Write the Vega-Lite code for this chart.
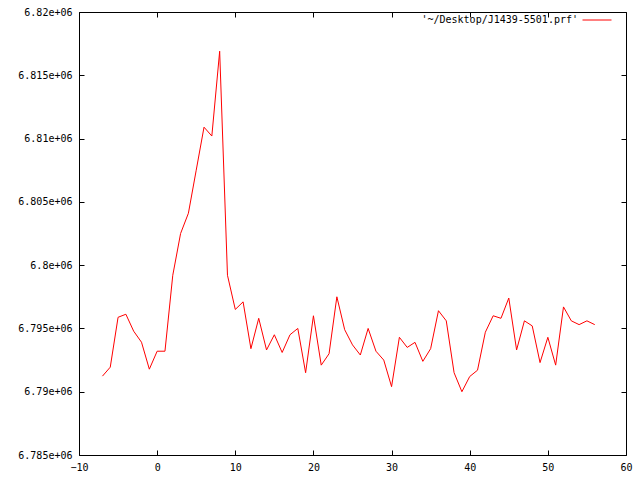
{
  "$schema": "https://vega.github.io/schema/vega-lite/v6.json",
  "width": 547,
  "height": 443,
  "autosize": {"type": "none"},
  "padding": {"left": 79, "top": 12, "right": 14, "bottom": 25},
  "background": "white",
  "config": {
    "view": {"stroke": "black", "strokeWidth": 1},
    "font": "DejaVu Sans Mono",
    "axis": {
      "grid": false,
      "domain": false,
      "tickColor": "black",
      "tickSize": -5,
      "labelFont": "DejaVu Sans Mono",
      "labelFontSize": 10,
      "labelColor": "black",
      "title": null
    }
  },
  "data": {
    "values": [
      {"x": -7, "y": 6791230}, {"x": -6, "y": 6791940}, {"x": -5, "y": 6795880}, {"x": -4, "y": 6796120},
      {"x": -3, "y": 6794780}, {"x": -2, "y": 6793910}, {"x": -1, "y": 6791780}, {"x": 0, "y": 6793200},
      {"x": 1, "y": 6793200}, {"x": 2, "y": 6799200}, {"x": 3, "y": 6802500}, {"x": 4, "y": 6804100},
      {"x": 5, "y": 6807500}, {"x": 6, "y": 6810900}, {"x": 7, "y": 6810200}, {"x": 8, "y": 6816900},
      {"x": 9, "y": 6799200}, {"x": 10, "y": 6796500}, {"x": 11, "y": 6797100}, {"x": 12, "y": 6793400},
      {"x": 13, "y": 6795800}, {"x": 14, "y": 6793300}, {"x": 15, "y": 6794500}, {"x": 16, "y": 6793100},
      {"x": 17, "y": 6794500}, {"x": 18, "y": 6795000}, {"x": 19, "y": 6791500}, {"x": 20, "y": 6796000},
      {"x": 21, "y": 6792100}, {"x": 22, "y": 6793000}, {"x": 23, "y": 6797500}, {"x": 24, "y": 6794900},
      {"x": 25, "y": 6793700}, {"x": 26, "y": 6792900}, {"x": 27, "y": 6795000}, {"x": 28, "y": 6793200},
      {"x": 29, "y": 6792500}, {"x": 30, "y": 6790400}, {"x": 31, "y": 6794300}, {"x": 32, "y": 6793500},
      {"x": 33, "y": 6793900}, {"x": 34, "y": 6792400}, {"x": 35, "y": 6793400}, {"x": 36, "y": 6796400},
      {"x": 37, "y": 6795600}, {"x": 38, "y": 6791500}, {"x": 39, "y": 6790000}, {"x": 40, "y": 6791200},
      {"x": 41, "y": 6791700}, {"x": 42, "y": 6794700}, {"x": 43, "y": 6796000}, {"x": 44, "y": 6795800},
      {"x": 45, "y": 6797400}, {"x": 46, "y": 6793300}, {"x": 47, "y": 6795600}, {"x": 48, "y": 6795200},
      {"x": 49, "y": 6792300}, {"x": 50, "y": 6794300}, {"x": 51, "y": 6792100}, {"x": 52, "y": 6796700},
      {"x": 53, "y": 6795600}, {"x": 54, "y": 6795300}, {"x": 55, "y": 6795600}, {"x": 56, "y": 6795300}
    ]
  },
  "layer": [
    {
      "mark": {"type": "line", "strokeWidth": 1, "interpolate": "linear"},
      "encoding": {
        "x": {
          "field": "x", "type": "quantitative",
          "scale": {"domain": [-10, 60], "nice": false, "zero": false},
          "axis": {"orient": "bottom", "values": [-10, 0, 10, 20, 30, 40, 50, 60], "labelPadding": 12, "labelFlush": false}
        },
        "y": {
          "field": "y", "type": "quantitative",
          "scale": {"domain": [6785000, 6820000], "nice": false, "zero": false},
          "axis": {
            "orient": "left",
            "values": [6785000, 6790000, 6795000, 6800000, 6805000, 6810000, 6815000, 6820000],
            "labelExpr": "format(datum.value/1000000, '.3~f') + 'e+06'",
            "labelPadding": 12,
            "labelFlush": false
          }
        },
        "color": {
          "datum": "'~/Desktop/J1439-5501.prf'",
          "type": "nominal",
          "scale": {"range": ["#ff0000"]},
          "legend": {
            "title": null,
            "orient": "none",
            "legendX": 503,
            "legendY": -7,
            "symbolType": "stroke",
            "symbolSize": 841,
            "symbolStrokeWidth": 1,
            "labelAlign": "right",
            "labelOffset": -34,
            "labelFont": "DejaVu Sans Mono",
            "labelFontSize": 10,
            "labelColor": "black",
            "labelLimit": 300,
            "padding": 0
          }
        }
      }
    },
    {
      "mark": {"type": "line", "opacity": 0},
      "encoding": {
        "x": {
          "field": "x", "type": "quantitative",
          "axis": {"orient": "top", "values": [-10, 0, 10, 20, 30, 40, 50, 60], "labels": false}
        },
        "y": {
          "field": "y", "type": "quantitative",
          "axis": {
            "orient": "right",
            "values": [6785000, 6790000, 6795000, 6800000, 6805000, 6810000, 6815000, 6820000],
            "labels": false
          }
        }
      }
    }
  ]
}
